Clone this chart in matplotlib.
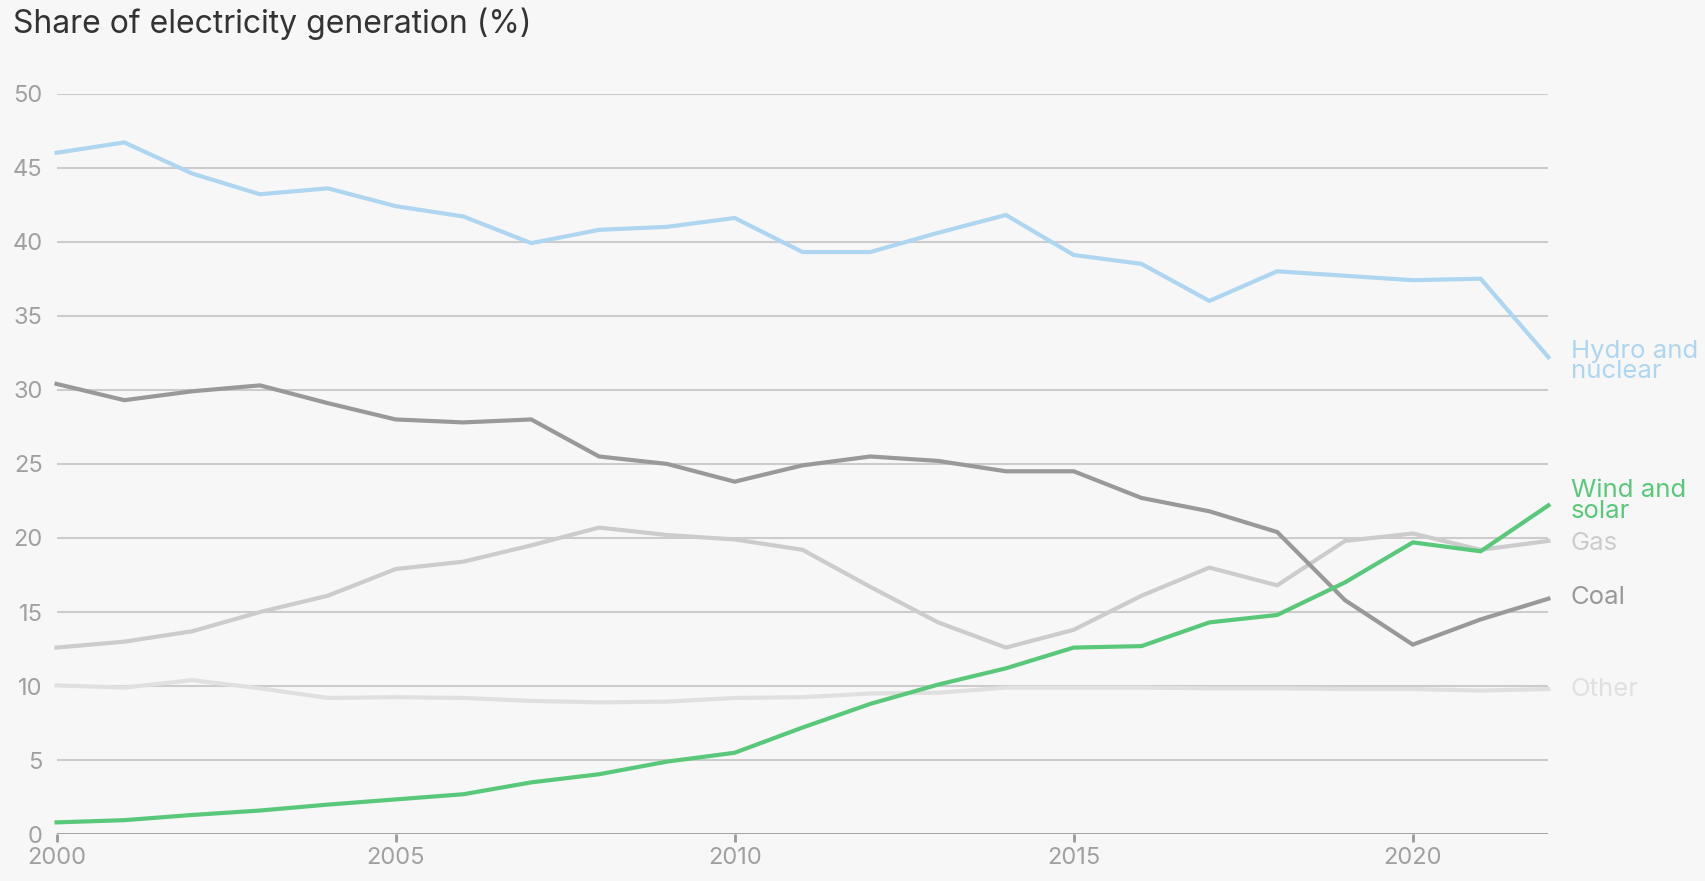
import matplotlib
matplotlib.use("Agg")
import matplotlib.pyplot as plt

years = list(range(2000, 2023))
hydro_nuclear = [46.0, 46.7, 44.6, 43.2, 43.6, 42.4, 41.7, 39.9, 40.8, 41.0, 41.6, 39.3,
                 39.3, 40.6, 41.8, 39.1, 38.5, 36.0, 38.0, 37.7, 37.4, 37.5, 32.2]
coal = [30.4, 29.3, 29.9, 30.3, 29.1, 28.0, 27.8, 28.0, 25.5, 25.0, 23.8, 24.9,
        25.5, 25.2, 24.5, 24.5, 22.7, 21.8, 20.4, 15.8, 12.8, 14.5, 15.9]
gas = [12.6, 13.0, 13.7, 15.0, 16.1, 17.9, 18.4, 19.5, 20.7, 20.2, 19.9, 19.2,
       16.7, 14.3, 12.6, 13.8, 16.1, 18.0, 16.8, 19.8, 20.3, 19.2, 19.8]
other = [10.05, 9.9, 10.4, 9.85, 9.2, 9.25, 9.2, 9.0, 8.9, 8.95, 9.2, 9.25,
         9.5, 9.55, 9.9, 9.9, 9.9, 9.85, 9.85, 9.8, 9.8, 9.7, 9.8]
wind_solar = [0.8, 0.95, 1.3, 1.6, 2.0, 2.35, 2.7, 3.5, 4.05, 4.9, 5.5, 7.2,
              8.8, 10.1, 11.2, 12.6, 12.7, 14.3, 14.8, 17.0, 19.7, 19.1, 22.2]

series = [
    ("Other", other, "#e0e0e0"),
    ("Gas", gas, "#cccccc"),
    ("Coal", coal, "#999999"),
    ("Hydro and\nnuclear", hydro_nuclear, "#aed6f1"),
    ("Wind and\nsolar", wind_solar, "#5ac87a"),
]
label_y = {"Other": 9.8, "Gas": 19.6, "Coal": 16.0, "Hydro and\nnuclear": 31.9, "Wind and\nsolar": 22.5}

y_ticks = list(range(0, 51, 5))
x_ticks = list(range(2000, 2021, 5))

plt.rcParams['font.family'] = ['Inter', 'DejaVu Sans']
bg = "#f7f7f7"
W, H = 1568, 810
fig = plt.figure(figsize=(17.05, 8.81), dpi=100, facecolor=bg)
ax = fig.add_axes([52/W, (H-767)/H, (1424-52)/W, (767-86)/H], facecolor=bg)

for yv in y_ticks[1:]:
    ax.axhline(yv, color="#cccccc", lw=1.5, zorder=1)
ax.axhline(0, color="#999999", lw=2.0, zorder=1)

for name, vals, col in series:
    ax.plot(years, vals, color=col, lw=3.0, zorder=3, clip_on=False, solid_joinstyle="miter")
    ax.text(1.015, label_y[name], name, transform=ax.get_yaxis_transform(), color=col,
            fontsize=18.5, va="center", ha="left", linespacing=0.85)

ax.set_xlim(2000, 2022)
ax.set_ylim(0, 50)
ax.set_yticks(y_ticks)
ax.set_xticks(x_ticks)
ax.tick_params(axis="y", length=0, pad=10, labelsize=17, labelcolor="#a0a0a0")
ax.tick_params(axis="x", length=6, width=2, color="#999999", pad=3, labelsize=17, labelcolor="#a0a0a0")
for s in ax.spines.values():
    s.set_visible(False)

fig.text(12/W, 1 - 22/H, "Share of electricity generation (%)", fontsize=23,
         color="#333333", va="center", ha="left")

fig.savefig("out.png", dpi=100, facecolor=bg)
